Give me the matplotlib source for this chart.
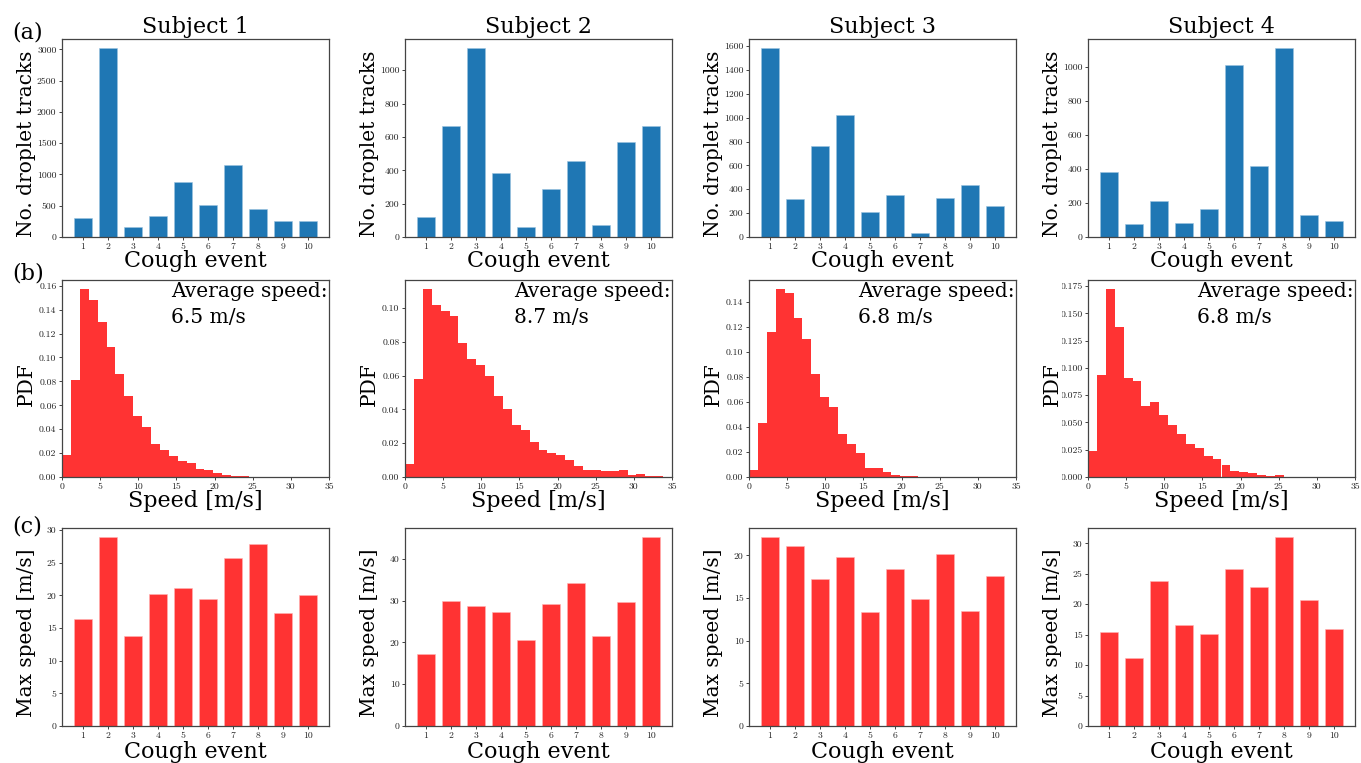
import matplotlib
matplotlib.use("Agg")
import matplotlib.pyplot as plt
import numpy as np
from matplotlib.transforms import Bbox, TransformedBbox

subjects = ['Subject 1', 'Subject 2', 'Subject 3', 'Subject 4']
events = np.arange(1, 11)
avg_speed = ['6.5 m/s', '8.7 m/s', '6.8 m/s', '6.8 m/s']

# number of droplet tracks per cough event
tracks_s1 = [302, 3016, 164, 334, 874, 509, 1145, 445, 260, 260]
tracks_s2 = [119, 665, 1131, 383, 58, 288, 456, 73, 571, 665]
tracks_s3 = [1581, 319, 761, 1025, 208, 356, 31, 331, 433, 256]
tracks_s4 = [382, 74, 214, 80, 164, 1010, 415, 1109, 127, 92]

# speed PDF, 30 bins from 0 to 35 m/s
speed_edges = np.linspace(0, 35, 31)
pdf_s1 = [0.018, 0.081, 0.157, 0.148, 0.130, 0.109, 0.086, 0.068, 0.051, 0.042,
          0.028, 0.023, 0.0174, 0.0136, 0.0116, 0.0064, 0.0055, 0.0036, 0.0014, 0.001,
          0.0005, 0, 0, 0, 0, 0, 0, 0, 0, 0]
pdf_s2 = [0.0075, 0.058, 0.111, 0.102, 0.098, 0.095, 0.079, 0.070, 0.066, 0.0596,
          0.048, 0.040, 0.031, 0.028, 0.021, 0.016, 0.014, 0.013, 0.0098, 0.0063,
          0.0042, 0.0042, 0.0038, 0.0035, 0.0043, 0.0012, 0.0015, 0.0008, 0.0007, 0]
pdf_s3 = [0.0053, 0.043, 0.1157, 0.150, 0.147, 0.1275, 0.110, 0.0823, 0.064, 0.0558,
          0.0347, 0.026, 0.0188, 0.0074, 0.0074, 0.0037, 0.0019, 0.0008, 0.0005, 0,
          0, 0, 0, 0, 0, 0, 0, 0, 0, 0]
pdf_s4 = [0.0236, 0.0932, 0.172, 0.1377, 0.0908, 0.0884, 0.0654, 0.0687, 0.0569, 0.0475,
          0.0393, 0.0303, 0.0266, 0.0197, 0.0163, 0.0112, 0.0051, 0.0042, 0.0033, 0.0021,
          0.0006, 0.0015, 0, 0, 0, 0, 0, 0, 0, 0]

# max speed per cough event [m/s]
vmax_s1 = [16.35, 28.88, 13.75, 20.27, 21.09, 19.41, 25.67, 27.92, 17.32, 20.02]
vmax_s2 = [17.1, 29.98, 28.7, 27.28, 20.6, 29.1, 34.1, 21.63, 29.74, 45.09]
vmax_s3 = [22.1, 21.09, 17.27, 19.84, 13.33, 18.4, 14.85, 20.2, 13.49, 17.58]
vmax_s4 = [15.46, 11.15, 23.83, 16.56, 15.08, 25.74, 22.84, 30.98, 20.71, 15.9]

tracks = [tracks_s1, tracks_s2, tracks_s3, tracks_s4]
pdfs = [pdf_s1, pdf_s2, pdf_s3, pdf_s4]
vmaxs = [vmax_s1, vmax_s2, vmax_s3, vmax_s4]

W, H = 1361, 763
fig = plt.figure(figsize=(W / 100, H / 100), dpi=100)

lab_font = {'family': 'DejaVu Serif', 'size': 16}
ylab_font = {'family': 'DejaVu Serif', 'size': 14.5}
tick_font = 'cmr10'
tick_size = 7
blue = '#1f77b4'
red = '#ff3333'
spine_col = '#444444'

col_left = [62, 405, 749, 1088]
ax_w = 267
rows = [(39, 237), (280, 477), (528, 726)]
xlab_y = [-0.068, -0.068, -0.075]


def make_ax(ci, ri):
    top, bot = rows[ri]
    ax = fig.add_axes([col_left[ci] / W, 1 - bot / H, ax_w / W, (bot - top) / H])
    for s in ax.spines.values():
        s.set_color(spine_col)
        s.set_linewidth(0.9)
    ax.tick_params(length=2.5, width=0.6, pad=1.5, colors='#222222', labelsize=tick_size)
    return ax


def finish(ax, ri, ylab, xlab):
    ax.set_ylabel(ylab, fontdict=ylab_font)
    ax.set_xlabel(xlab, fontdict=lab_font)
    ax.yaxis.set_label_coords(-0.097, 0.47)
    ax.xaxis.set_label_coords(0.5, xlab_y[ri])
    ax.xaxis.label.set_va('top')
    for lab in ax.get_xticklabels() + ax.get_yticklabels():
        lab.set_fontfamily(tick_font)
        lab.set_fontsize(tick_size)


for i in range(4):
    # (a) droplet tracks
    ax = make_ax(i, 0)
    ax.bar(events, tracks[i], width=0.7, color=blue, edgecolor='#9cc3e0', linewidth=0.4)
    ax.set_xticks(events)
    ax.set_title(subjects[i], fontdict=lab_font, pad=4)
    finish(ax, 0, 'No. droplet tracks', 'Cough event')

    # (b) speed PDF
    ax = make_ax(i, 1)
    ax.bar(speed_edges[:-1], pdfs[i], width=np.diff(speed_edges), align='edge',
           color=red, linewidth=0)
    ax.set_xlim(0, 35)
    ax.text(0.41, 0.99, 'Average speed:\n' + avg_speed[i], transform=ax.transAxes,
            ha='left', va='top', family='DejaVu Serif', fontsize=14.5, linespacing=1.45)
    finish(ax, 1, 'PDF', 'Speed [m/s]')
    if i == 3:
        clip = TransformedBbox(Bbox([[1062 / W, 0], [1, 1]]), fig.transFigure)
        for lab in ax.get_yticklabels():
            lab.set_clip_box(clip)
            lab.set_clip_on(True)

    # (c) max speed
    ax = make_ax(i, 2)
    ax.bar(events, vmaxs[i], width=0.7, color=red, edgecolor='#ffb3b3', linewidth=0.4)
    ax.set_xticks(events)
    finish(ax, 2, 'Max speed [m/s]', 'Cough event')

for lbl, y in zip(['(a)', '(b)', '(c)'], [33, 273, 526]):
    fig.text(12 / W, 1 - y / H, lbl, ha='left', va='center', family='DejaVu Serif', fontsize=16)

fig.savefig('out.png', dpi=100)
